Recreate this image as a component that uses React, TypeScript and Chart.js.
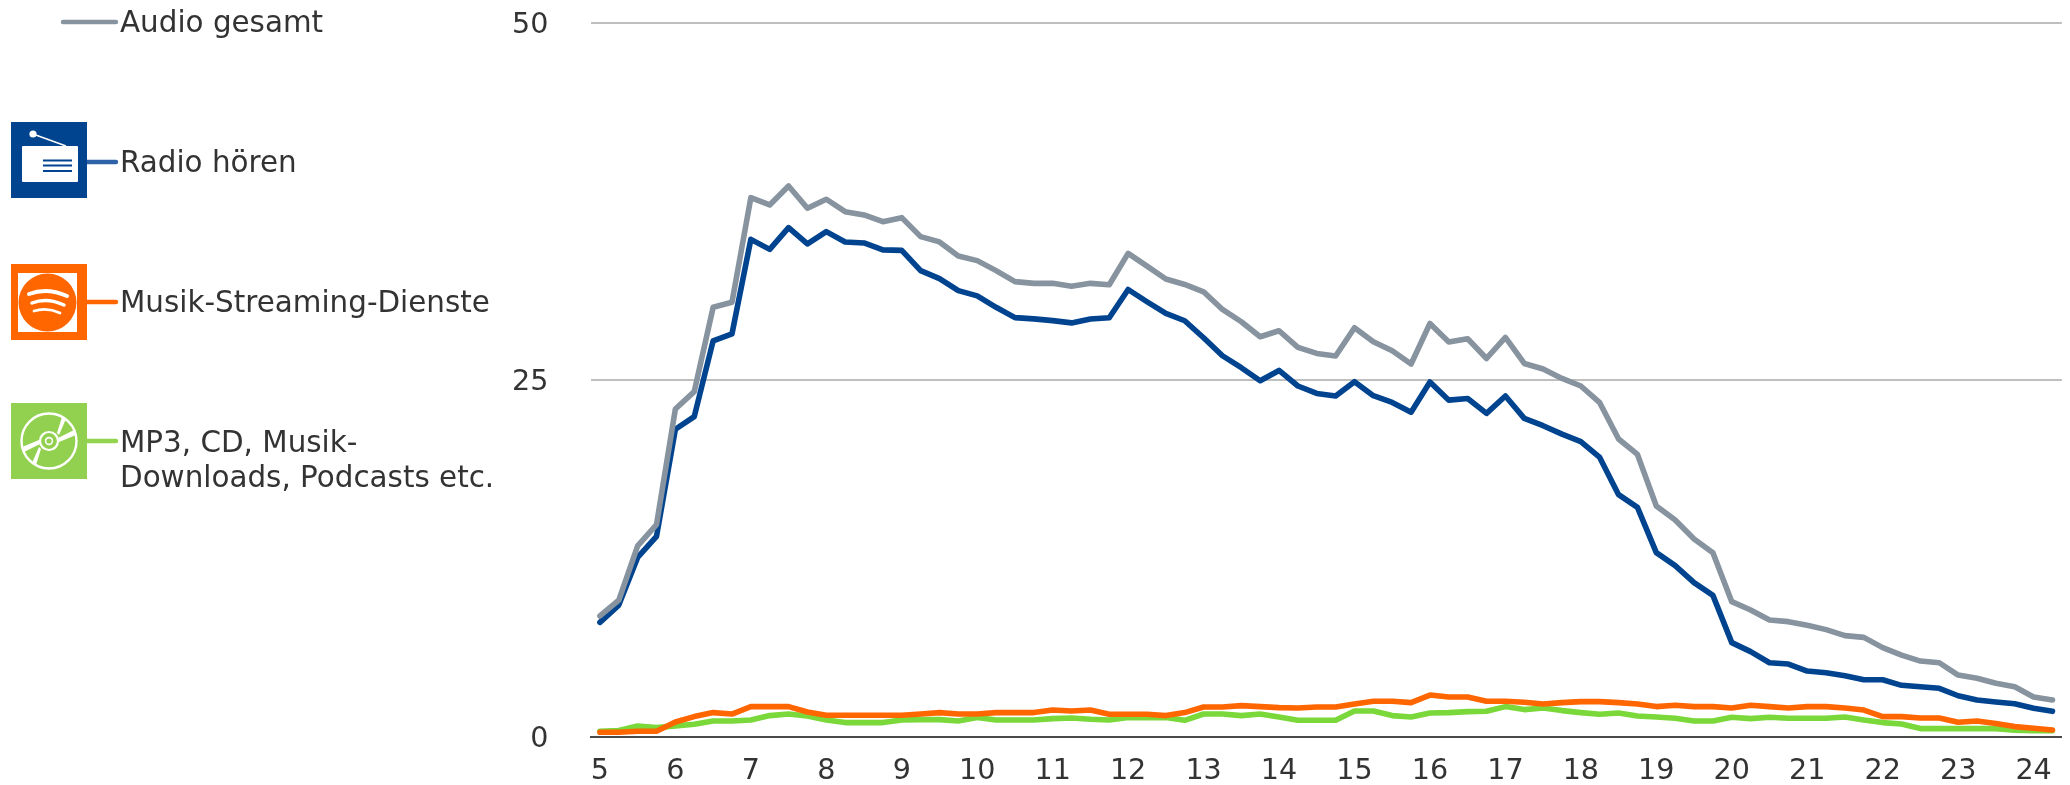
import React, { useEffect, useRef } from "react";
import Chart from "chart.js/auto";

const hours = [5, 6, 7, 8, 9, 10, 11, 12, 13, 14, 15, 16, 17, 18, 19, 20, 21, 22, 23, 24];
const quarters = ["", ":15", ":30", ":45"];
const categories: string[] = hours.flatMap((h) => quarters.map((q) => `${h}${q}`)).slice(0, 78);
const yTicks = [0, 25, 50];

const audioGesamt = [
  8.5, 9.6, 13.4, 14.9, 22.99, 24.21, 30.11, 30.46, 37.79, 37.28, 38.61, 37.05, 37.68,
  36.81, 36.58, 36.11, 36.39, 35.06, 34.69, 33.71, 33.38, 32.68, 31.91, 31.79, 31.79, 31.58,
  31.79, 31.69, 33.89, 33.0, 32.09, 31.71, 31.2, 29.96, 29.1, 28.05, 28.47, 27.3, 26.88, 26.7,
  28.68, 27.7, 27.07, 26.14, 28.98, 27.68, 27.91, 26.53, 28.0, 26.18, 25.79, 25.13, 24.6,
  23.43, 20.89, 19.81, 16.2, 15.22, 13.89, 12.93, 9.5, 8.91, 8.21, 8.1, 7.84, 7.54, 7.12, 7.0,
  6.28, 5.76, 5.34, 5.22, 4.36, 4.13, 3.78, 3.54, 2.82, 2.61,
];
const radioHoeren = [
  8.05, 9.26, 12.6, 14.07, 21.57, 22.46, 27.76, 28.25, 34.87, 34.17, 35.69, 34.55, 35.41,
  34.69, 34.62, 34.13, 34.1, 32.68, 32.12, 31.28, 30.91, 30.11, 29.39, 29.3, 29.18, 29.02,
  29.29, 29.38, 31.36, 30.5, 29.68, 29.17, 27.98, 26.72, 25.88, 24.97, 25.69, 24.6, 24.08, 23.9,
  24.9, 23.92, 23.45, 22.77, 24.88, 23.61, 23.73, 22.68, 23.9, 22.33, 21.82, 21.23, 20.7,
  19.6, 16.99, 16.1, 12.93, 12.02, 10.83, 9.94, 6.63, 6.0, 5.22, 5.13, 4.64, 4.52, 4.31, 4.03,
  4.03, 3.64, 3.54, 3.43, 2.91, 2.61, 2.47, 2.35, 2.03, 1.82,
];
const musikStreaming = [
  0.35, 0.35, 0.42, 0.42, 1.07, 1.45, 1.73, 1.63, 2.15, 2.15, 2.15, 1.77, 1.54, 1.54, 1.54, 1.54,
  1.54, 1.63, 1.73, 1.63, 1.63, 1.73, 1.73, 1.73, 1.91, 1.84, 1.91, 1.61, 1.61, 1.61, 1.52, 1.73,
  2.12, 2.12, 2.22, 2.15, 2.08, 2.05, 2.12, 2.12, 2.33, 2.52, 2.52, 2.43, 2.96, 2.82, 2.82, 2.52,
  2.52, 2.45, 2.33, 2.43, 2.5, 2.5, 2.43, 2.33, 2.15, 2.24, 2.15, 2.15, 2.05, 2.24, 2.15, 2.05,
  2.15, 2.15, 2.05, 1.91, 1.45, 1.45, 1.35, 1.35, 1.05, 1.14, 0.96, 0.75, 0.63, 0.51,
];
const mp3CdPodcasts = [
  0.42, 0.47, 0.79, 0.68, 0.8, 0.91, 1.14, 1.14, 1.21, 1.52, 1.63, 1.49, 1.21, 1.03, 1.03, 1.03,
  1.21, 1.24, 1.24, 1.14, 1.38, 1.21, 1.21, 1.21, 1.31, 1.35, 1.26, 1.21, 1.38, 1.38, 1.38, 1.19,
  1.63, 1.63, 1.52, 1.63, 1.42, 1.19, 1.19, 1.19, 1.84, 1.84, 1.52, 1.42, 1.7, 1.73, 1.8, 1.82,
  2.15, 1.94, 2.05, 1.87, 1.73, 1.61, 1.7, 1.49, 1.42, 1.33, 1.14, 1.14, 1.4, 1.31, 1.4, 1.33,
  1.33, 1.33, 1.42, 1.21, 1.03, 0.93, 0.61, 0.61, 0.61, 0.61, 0.61, 0.49, 0.47, 0.47,
];

const labelAudio = "Audio gesamt";
const labelRadio = "Radio hören";
const labelStreaming = "Musik-Streaming-Dienste";
const labelMp3 = ["MP3, CD, Musik-", "Downloads, Podcasts etc."];

const GREY = "#87939f";
const BLUE = "#00438f";
const ORANGE = "#ff6600";
const GREEN = "#7ad83a";
const TEXT = "#333333";
const FONT = "'DejaVu Sans', Verdana, sans-serif";
const FONT_PX = 28.6;
const LEGEND_PX = 29.4;

function LegendText({ top, lines }: { top: number; lines: string[] }) {
  return (
    <div
      style={{
        position: "absolute",
        left: 120,
        top,
        font: `${LEGEND_PX}px/35px ${FONT}`,
        color: TEXT,
        whiteSpace: "nowrap",
        transform: "translateY(-17.5px)",
      }}
    >
      {lines.map((l) => (
        <div key={l}>{l}</div>
      ))}
    </div>
  );
}

function LegendIcons() {
  return (
    <svg width={130} height={785} style={{ position: "absolute", left: 0, top: 0 }}>
      <line x1={63} y1={22} x2={116} y2={22} stroke={GREY} strokeWidth={4.4} strokeLinecap="round" />

      <line x1={87} y1={162} x2={116} y2={162} stroke="#2f62a8" strokeWidth={4.4} strokeLinecap="round" />
      <rect x={11} y={122} width={76} height={76} fill={BLUE} />
      <rect x={22} y={146} width={56} height={36} rx={1} fill="#fff" />
      <circle cx={33} cy={134} r={3.6} fill="#fff" />
      <line x1={33} y1={134} x2={66} y2={146} stroke="#fff" strokeWidth={1.4} />
      <rect x={43} y={159.5} width={29} height={2} fill={BLUE} />
      <rect x={43} y={164.5} width={29} height={2} fill={BLUE} />
      <rect x={43} y={170} width={29} height={2} fill={BLUE} />

      <line x1={87} y1={302} x2={116} y2={302} stroke={ORANGE} strokeWidth={4.4} strokeLinecap="round" />
      <rect x={11} y={264} width={76} height={76} fill={ORANGE} />
      <rect x={18} y={273} width={59} height={59} fill="#fff" />
      <circle cx={47.5} cy={302.5} r={29} fill={ORANGE} />
      <path d="M29 294 Q47 287 67 296" fill="none" stroke="#fff" strokeWidth={4} strokeLinecap="round" />
      <path d="M32 303 Q47 297 64 305" fill="none" stroke="#fff" strokeWidth={3.4} strokeLinecap="round" />
      <path d="M34 311 Q47 307 60 313" fill="none" stroke="#fff" strokeWidth={2.8} strokeLinecap="round" />

      <line x1={87} y1={441} x2={116} y2={441} stroke="#93d44f" strokeWidth={4.4} strokeLinecap="round" />
      <rect x={11} y={403} width={76} height={76} fill="#92d050" />
      <circle cx={49} cy={441} r={27.5} fill="none" stroke="#fff" strokeWidth={2.4} />
      <circle cx={49} cy={441} r={9} fill="none" stroke="#fff" strokeWidth={2.2} />
      <circle cx={49} cy={441} r={3.4} fill="none" stroke="#fff" strokeWidth={1.6} />
      <path d="M57 433 L62 417 L66 419 L59 435 Z M58 438 L74 430 L76 435 L59 442 Z" fill="#fff" />
      <path d="M41 449 L36 465 L32 463 L39 447 Z M40 444 L24 452 L22 447 L39 440 Z" fill="#fff" />
    </svg>
  );
}

export default function App() {
  const ref = useRef<HTMLCanvasElement>(null);

  useEffect(() => {
    const line = (label: string, data: number[], color: string) => ({
      label,
      data,
      borderColor: color,
      backgroundColor: color,
      borderWidth: 5.6,
      pointRadius: 0,
      tension: 0,
      borderCapStyle: "round" as const,
      borderJoinStyle: "round" as const,
    });
    const chart = new Chart(ref.current!, {
      type: "line",
      data: {
        labels: categories,
        datasets: [
          line(labelStreaming, musikStreaming, ORANGE),
          line(labelMp3.join(" "), mp3CdPodcasts, GREEN),
          line(labelAudio, audioGesamt, GREY),
          line(labelRadio, radioHoeren, BLUE),
        ],
      },
      options: {
        responsive: false,
        animation: false,
        devicePixelRatio: 1,
        layout: { autoPadding: false, padding: { top: 23.3, right: 7, bottom: 0, left: 0 } },
        plugins: { legend: { display: false }, tooltip: { enabled: false } },
        scales: {
          x: {
            type: "category",
            offset: true,
            grid: { display: false, drawTicks: false },
            border: { color: "#4a4a4a", width: 2 },
            ticks: {
              autoSkip: false,
              maxRotation: 0,
              minRotation: 0,
              padding: 17.5,
              color: TEXT,
              font: { family: FONT, size: FONT_PX },
              callback: (_v, i) => (categories[i].includes(":") ? "" : categories[i]),
            },
            afterFit: (s: any) => {
              s.height = 47.7;
            },
          },
          y: {
            min: 0,
            max: 50,
            afterBuildTicks: (s: any) => {
              s.ticks = yTicks.map((value) => ({ value }));
            },
            grid: { color: "#bfbfbf", lineWidth: 2, drawTicks: false },
            border: { display: false },
            ticks: {
              padding: 42,
              labelOffset: 2.5,
              color: TEXT,
              font: { family: FONT, size: FONT_PX },
            },
            afterFit: (s: any) => {
              s.width = 590.5;
              s.paddingTop = 0;
              s.paddingBottom = 0;
            },
          },
        },
      },
    });
    return () => chart.destroy();
  }, []);

  return (
    <div style={{ position: "absolute", left: 0, top: 0, width: 2070, height: 785, overflow: "hidden", background: "#fff" }}>
      <canvas ref={ref} width={2070} height={785} style={{ position: "absolute", left: 0, top: 0, display: "block" }} />
      <LegendIcons />
      <LegendText top={22} lines={[labelAudio]} />
      <LegendText top={162} lines={[labelRadio]} />
      <LegendText top={302} lines={[labelStreaming]} />
      <LegendText top={442} lines={labelMp3} />
    </div>
  );
}
